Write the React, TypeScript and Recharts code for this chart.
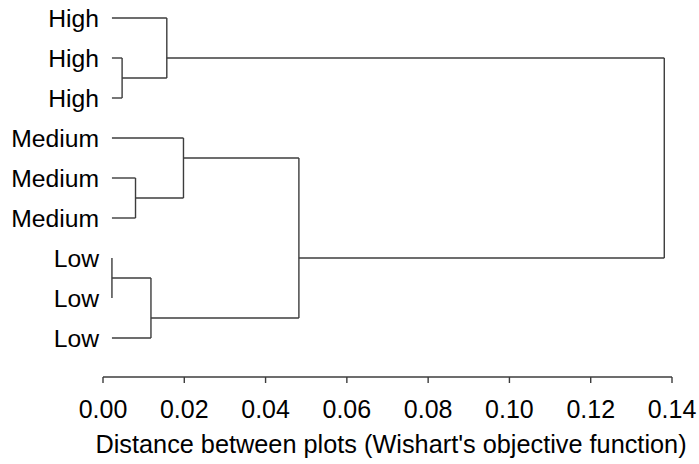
import { LineChart, Line, XAxis, YAxis } from 'recharts';

// leaves, top to bottom
const leafIds = ['h1', 'h2', 'h3', 'm1', 'm2', 'm3', 'l1', 'l2', 'l3'];
const leafLabels = ['High', 'High', 'High', 'Medium', 'Medium', 'Medium', 'Low', 'Low', 'Low'];
// distance at which the leaf branches start
const leafHeight = 0.0022;

// merges: two children, merge distance, vertical slot of the joining branch
const nodeIds = ['H23', 'H', 'M23', 'M', 'L12', 'L', 'ML', 'root'];
const nodeFirst = ['h2', 'h1', 'm2', 'm1', 'l1', 'L12', 'M', 'H'];
const nodeSecond = ['h3', 'H23', 'm3', 'M23', 'l2', 'l3', 'L', 'ML'];
const nodeHeights = [0.0047, 0.0157, 0.008, 0.0198, 0.0022, 0.0118, 0.0482, 0.1381];
const nodeSlots = [1.5, 1.0, 4.5, 3.5, 6.5, 7.5, 6.0, 3.5];

const xTicks = [0, 0.02, 0.04, 0.06, 0.08, 0.1, 0.12, 0.14];
const yTicks = [0, 1, 2, 3, 4, 5, 6, 7, 8];

const FONT = '"Liberation Sans", Arial, sans-serif';
const STROKE = '#3c3c3c';

function buildSegments() {
    const pos: Record<string, { x: number; y: number }> = {};
    leafIds.forEach((id, i) => (pos[id] = { x: leafHeight, y: i }));
    nodeIds.forEach((id, i) => (pos[id] = { x: nodeHeights[i], y: nodeSlots[i] }));

    const segs: { x: number; y: number }[][] = [];
    nodeIds.forEach((id, i) => {
        const h = nodeHeights[i];
        const a = pos[nodeFirst[i]];
        const b = pos[nodeSecond[i]];
        segs.push([{ x: a.x, y: a.y }, { x: h, y: a.y }]);
        segs.push([{ x: b.x, y: b.y }, { x: h, y: b.y }]);
        segs.push([{ x: h, y: a.y }, { x: h, y: b.y }]);
    });
    return segs;
}

const segments = buildSegments();

export default function App() {
    return (
        <div style={{ width: 699, height: 464, background: '#fff', fontFamily: FONT }}>
            <style>{'body{margin:0}'}</style>
            <LineChart width={699} height={464} margin={{ top: 0, right: 27, bottom: 0, left: 0 }}>
                <XAxis
                    type="number"
                    dataKey="x"
                    domain={[0, 0.14]}
                    ticks={xTicks}
                    allowDataOverflow
                    height={87}
                    tickSize={6}
                    tickMargin={17}
                    tickFormatter={(v: number) => v.toFixed(2)}
                    stroke={STROKE}
                    strokeWidth={1.4}
                    tick={{ fill: '#000', fontSize: 25, fontFamily: FONT }}
                    label={{
                        value: "Distance between plots (Wishart's objective function)",
                        position: 'insideBottom',
                        offset: 11,
                        dx: 3.5,
                        fill: '#000',
                        fontSize: 25.3,
                        fontFamily: FONT,
                    }}
                />
                <YAxis
                    type="number"
                    domain={[-0.45, 8.975]}
                    ticks={yTicks}
                    reversed
                    allowDataOverflow
                    width={103}
                    axisLine={false}
                    tickLine={false}
                    tickSize={0}
                    tickMargin={4}
                    tick={(p: any) => (
                        <text
                            x={p.x}
                            y={p.y}
                            dy="0.355em"
                            textAnchor="end"
                            fill="#000"
                            fontSize={24.7}
                            fontFamily={FONT}
                        >
                            {leafLabels[p.payload.value]}
                        </text>
                    )}
                />
                {segments.map((seg, i) => (
                    <Line
                        key={`seg-${i}`}
                        data={seg}
                        dataKey="y"
                        type="linear"
                        stroke={STROKE}
                        strokeWidth={1.4}
                        dot={false}
                        activeDot={false}
                        isAnimationActive={false}
                    />
                ))}
            </LineChart>
        </div>
    );
}
